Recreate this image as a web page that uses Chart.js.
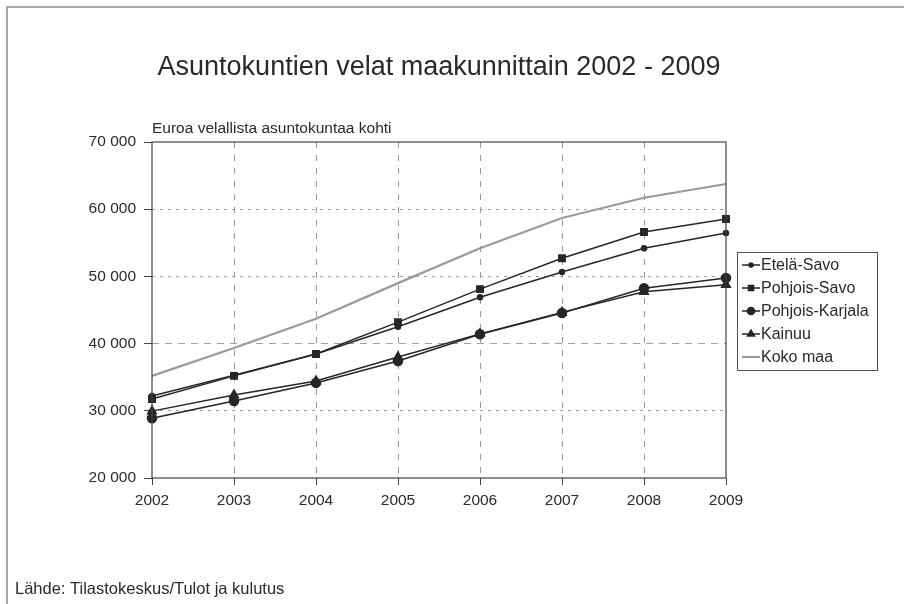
<!DOCTYPE html>
<html>
<head>
<meta charset="utf-8">
<script src="https://cdn.jsdelivr.net/npm/chart.js@4"></script>
<style>
  html, body { margin: 0; padding: 0; background: #fff; }
  #wrap { width: 904px; height: 604px; }
</style>
</head>
<body>
<div id="wrap"><canvas id="myChart" width="904" height="604"></canvas></div>
<script>
// vuodet ja arvot (euroa / asuntokunta)
const years = ["2002", "2003", "2004", "2005", "2006", "2007", "2008", "2009"];
const etelaSavo = [32200, 35300, 38450, 42500, 46900, 50650, 54200, 56450];
const pohjoisSavo = [31750, 35200, 38450, 43200, 48100, 52700, 56600, 58550];
const pohjoisKarjala = [28900, 31450, 34150, 37400, 41400, 44550, 48250, 49750];
const kainuu = [29950, 32350, 34450, 38000, 41450, 44650, 47700, 48750];
const kokoMaa = [35200, 39350, 43700, 49000, 54200, 58700, 61700, 63750];

const yTicks = [20000, 30000, 40000, 50000, 60000, 70000];

const titleText = "Asuntokuntien velat maakunnittain 2002 - 2009";
const subText = "Euroa velallista asuntokuntaa kohti";
const sourceText = "Lähde: Tilastokeskus/Tulot ja kulutus";

const font = "'Liberation Sans', Arial, sans-serif";
const dark = "#2a2a2a";

const fmt = (v) => String(v).replace(/\B(?=(\d{3})+(?!\d))/g, " ");

// kehys, otsikot, lähde ja selite
const extras = {
  id: "extras",
  afterDraw(chart) {
    const c = chart.ctx;
    const a = chart.chartArea;
    c.save();
    // ulkokehys
    c.strokeStyle = "#a8a8a8";
    c.lineWidth = 2;
    c.beginPath();
    c.moveTo(7, 604);
    c.lineTo(7, 7);
    c.lineTo(904, 7);
    c.stroke();

    // kuvaajan laatikko
    c.strokeStyle = "#444";
    c.lineWidth = 1.2;
    c.strokeRect(a.left, a.top, a.right - a.left, a.bottom - a.top);

    c.fillStyle = dark;
    c.textBaseline = "middle";
    c.textAlign = "center";
    c.font = "27px " + font;
    c.fillText(titleText, 439, 68);

    c.textAlign = "left";
    c.font = "15.5px " + font;
    c.fillText(subText, a.left, 129);

    c.font = "16.5px " + font;
    c.fillText(sourceText, 15, 589);

    // selite
    const lx = 737, ly = 252, lw = 140, lh = 118;
    c.strokeStyle = "#555";
    c.lineWidth = 1;
    c.strokeRect(lx + 0.5, ly + 0.5, lw, lh);
    c.font = "16px " + font;
    chart.data.datasets.forEach((ds, i) => {
      const y = ly + 13 + i * 23;
      c.strokeStyle = ds.borderColor;
      c.lineWidth = ds.borderWidth;
      c.beginPath();
      c.moveTo(lx + 5, y);
      c.lineTo(lx + 23, y);
      c.stroke();
      if (ds.pointRadius > 0) {
        Chart.helpers.drawPoint(c, {
          pointStyle: ds.pointStyle,
          radius: ds.pointRadius * 0.8,
          rotation: 0,
          borderWidth: 1
        }, lx + 14, y);
        c.fillStyle = ds.pointBackgroundColor;
        c.fill();
      }
      c.fillStyle = dark;
      c.fillText(ds.label, lx + 24, y + 1);
    });
    c.restore();
  }
};

const line = (label, data, style, r, color, width) => ({
  label: label,
  data: data,
  borderColor: color,
  backgroundColor: color,
  pointBackgroundColor: color,
  pointBorderColor: color,
  borderWidth: width,
  pointStyle: style,
  pointRadius: r,
  pointHoverRadius: r,
  tension: 0
});

const ctx = document.querySelector("#myChart").getContext("2d");
const myChart = new Chart(ctx, {
  type: "line",
  data: {
    labels: years,
    datasets: [
      line("Etelä-Savo", etelaSavo, "circle", 2.5, "#262626", 1.5),
      line("Pohjois-Savo", pohjoisSavo, "rect", 4.5, "#262626", 1.5),
      line("Pohjois-Karjala", pohjoisKarjala, "circle", 4.5, "#262626", 1.5),
      line("Kainuu", kainuu, "triangle", 5, "#262626", 1.5),
      line("Koko maa", kokoMaa, false, 0, "#9a9a9a", 2.2)
    ]
  },
  options: {
    responsive: false,
    animation: false,
    layout: { padding: { left: 0, right: 178, top: 142, bottom: 0 } },
    plugins: {
      legend: { display: false },
      title: { display: false },
      tooltip: { enabled: false }
    },
    scales: {
      x: {
        type: "category",
        offset: false,
        afterFit: (s) => { s.height = 126; },
        grid: {
          color: (c) => (c.index === 0 || c.index === years.length - 1) ? "rgba(0,0,0,0)" : "#9a9a9a",
          lineWidth: 1,
          tickLength: 7,
          tickColor: "#444",
          tickBorderDash: []
        },
        border: { display: false, dash: [6, 7] },
        ticks: {
          color: dark,
          font: { family: font, size: 15.5 },
          padding: 6,
          maxRotation: 0
        }
      },
      y: {
        min: 20000,
        max: 70000,
        afterFit: (s) => { s.width = 152; },
        afterBuildTicks: (s) => { s.ticks = yTicks.map((v) => ({ value: v })); },
        grid: {
          color: (c) => (c.tick && (c.tick.value === 20000 || c.tick.value === 70000)) ? "rgba(0,0,0,0)" : "#a0a0a0",
          lineWidth: 1,
          tickLength: 8,
          tickColor: "#444",
          tickBorderDash: []
        },
        border: {
          display: false,
          dash: (c) => (c.tick && c.tick.value === 40000) ? [7, 6] : [3, 5]
        },
        ticks: {
          color: dark,
          font: { family: font, size: 15.5 },
          padding: 8,
          callback: (v) => fmt(v)
        }
      }
    }
  },
  plugins: [extras]
});
</script>
</body>
</html>
